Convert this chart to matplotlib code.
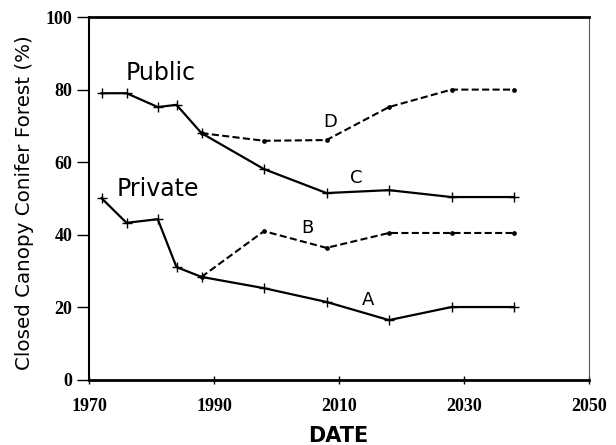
import matplotlib
matplotlib.use("Agg")
import matplotlib.pyplot as plt

# Data
years_solid = [1972, 1976, 1981, 1984, 1988, 1998, 2008, 2018, 2028, 2038]
public_C = [79, 79, 75.2, 75.8, 68, 58.1, 51.5, 52.3, 50.4, 50.4]
private_A = [50.1, 43.3, 44.3, 31.1, 28.4, 25.3, 21.5, 16.5, 20.1, 20.1]
years_dash = [1988, 1998, 2008, 2018, 2028, 2038]
public_D = [68, 65.9, 66.1, 75.2, 80, 80]
private_B = [28.4, 41.0, 36.4, 40.5, 40.5, 40.5]

x_ticks = [1970, 1990, 2010, 2030, 2050]
y_ticks = [0, 20, 40, 60, 80, 100]

W, H = 616, 445
fig = plt.figure(figsize=(W/100, H/100), dpi=100)
ax = fig.add_axes([89/W, 1 - 380/H, 500/W, 363/H])

ax.plot(years_solid, public_C, color='black', lw=1.6, marker='+', ms=7, mew=1.0)
ax.plot(years_solid, private_A, color='black', lw=1.6, marker='+', ms=7, mew=1.0)
ax.plot(years_dash, public_D, color='black', lw=1.5, ls=(0, (3.4, 1.6)), marker='o', ms=2.4)
ax.plot(years_dash, private_B, color='black', lw=1.5, ls=(0, (3.4, 1.6)), marker='o', ms=2.4)

lab = dict(family='DejaVu Sans', color='black')
ax.text(1975.8, 84.6, 'Public', fontsize=17, va='center', ha='left', **lab)
ax.text(1974.4, 52.6, 'Private', fontsize=17, va='center', ha='left', **lab)
ax.text(2008.6, 71.0, 'D', fontsize=13, va='center', ha='center', **lab)
ax.text(2012.8, 55.6, 'C', fontsize=13, va='center', ha='center', **lab)
ax.text(2005.0, 42.0, 'B', fontsize=13, va='center', ha='center', **lab)
ax.text(2014.6, 22.0, 'A', fontsize=13, va='center', ha='center', **lab)

ax.set_xlim(1970, 2050)
ax.set_ylim(0, 100)
ax.set_xticks(x_ticks)
ax.set_yticks(y_ticks)
for t in ax.get_xticklabels() + ax.get_yticklabels():
    t.set_family('Liberation Serif')
    t.set_fontweight('bold')
    t.set_fontsize(13)
ax.tick_params(axis='y', direction='out', length=9, width=1, pad=3)
ax.tick_params(axis='x', direction='inout', length=6, width=1, pad=10)

for s in ['top', 'bottom']:
    ax.spines[s].set_linewidth(2)
ax.spines['left'].set_linewidth(1.5)
ax.spines['right'].set_linewidth(0.8)
ax.spines['right'].set_color('#555555')

fig.text(25/W, 1 - 203/H, 'Closed Canopy Conifer Forest (%)', family='DejaVu Sans',
         fontsize=14.3, rotation=90, ha='center', va='center')
fig.text(338/W, 1 - 442/H, 'DATE', family='DejaVu Sans', fontweight='bold',
         fontsize=15, ha='center', va='baseline')

fig.savefig('out.png', dpi=100)
